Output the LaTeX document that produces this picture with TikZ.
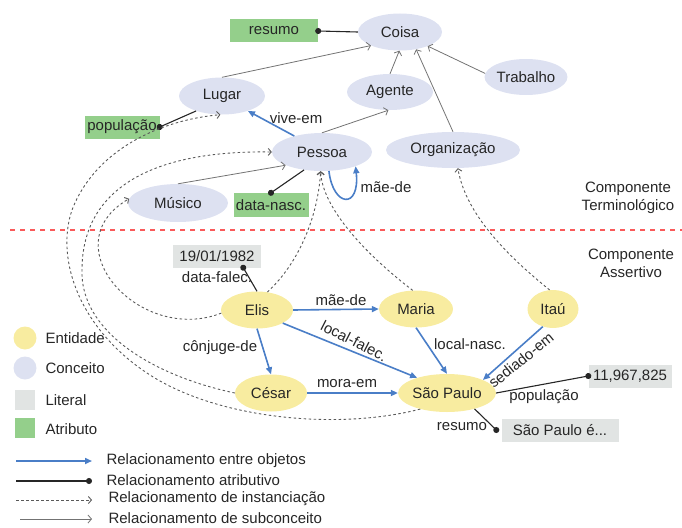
\documentclass[tikz,border=0pt]{standalone}
\usepackage{fontspec}
\setmainfont{Liberation Sans}
\usetikzlibrary{shapes.geometric,arrows.meta}

\definecolor{conceito}{RGB}{221,225,241}
\definecolor{entidade}{RGB}{248,236,160}
\definecolor{atributo}{RGB}{148,207,139}
\definecolor{literal}{RGB}{225,228,227}
\definecolor{objazul}{RGB}{74,126,199}
\definecolor{divisor}{RGB}{250,90,90}

\begin{document}
\begin{tikzpicture}[x=1pt,y=-1pt,
	font=\fontsize{15}{18}\selectfont,text=black!85,
	conc/.style={ellipse,fill=conceito,inner sep=0pt},
	ent/.style={ellipse,fill=entidade,inner sep=0pt},
	attr/.style={fill=atributo,minimum height=23pt,inner sep=0pt},
	lit/.style={fill=literal,minimum height=23pt,inner sep=0pt},
	objrel/.style={objazul,line width=1.6pt,-{Triangle[length=7pt,width=6pt]}},
	atrrel/.style={black!85,line width=1.1pt,shorten >=-3pt,-{Circle[length=6pt]}},
	inst/.style={black!65,line width=0.9pt,dash pattern=on 2.5pt off 2.5pt,-{Straight Barb[length=3pt,width=7pt]}},
	subc/.style={black!55,line width=0.8pt,-{Straight Barb[length=3.5pt,width=8pt]}}]
			\useasboundingbox (0,0) rectangle (682,527);
			% componente terminologico
			\node[conc,minimum width=84pt,minimum height=37pt] (coisa) at (400,32) {Coisa};
			\node[conc,minimum width=86pt,minimum height=37pt] (lugar) at (222,96) {Lugar};
			\node[conc,minimum width=86pt,minimum height=36pt] (agente) at (390,92) {Agente};
			\node[conc,minimum width=74pt,minimum height=36pt] (trabalho) at (526,77) {Trabalho};
			\node[conc,minimum width=134pt,minimum height=36pt] (org) at (453,150) {Organização};
			\node[conc,minimum width=100pt,minimum height=38pt] (pessoa) at (322,152) {Pessoa};
			\node[conc,minimum width=100pt,minimum height=38pt] (musico) at (178,203) {Músico};
			\node[attr,minimum width=88pt] (resumo) at (274,31) {resumo};
			\node[attr,minimum width=75pt] (pop) at (122,127) {população};
			\node[attr,minimum width=75pt,minimum height=24pt] (nasc) at (271,205) {data-nasc.};
			\node[align=center] (term) at (628,198) {Componente\\Terminológico};
			\draw[subc] (lugar.north) -- (coisa.205);
			\draw[subc] (agente.north) -- (coisa.268);
			\draw[subc] (org.north) -- (coisa.313);
			\draw[subc] (trabalho.175) -- (coisa.333);
			\draw[subc] (pessoa.north) -- (agente.265);
			\draw[subc] (musico.north) -- (pessoa.200);
			\draw[atrrel] (coisa.west) -- (resumo.east);
			\draw[atrrel] (lugar.210) -- (pop.east);
			\draw[atrrel] (pessoa.225) -- (nasc.north);
			\draw[objrel] (pessoa.150) -- (lugar.-30);
			\node (viveem) at (296,118) {vive-em};
			\draw[objrel] (pessoa.290) .. controls (333,207) and (360,210) .. (pessoa.337);
			\node (maede1) at (386,187) {mãe-de};
			% divisao
			\draw[divisor,line width=2.5pt,dash pattern=on 5pt off 5pt] (10,230) -- (682,230);
			% componente assertivo
			\node[align=center] (assert) at (631,263) {Componente\\Assertivo};
			\node[ent,minimum width=72pt,minimum height=37pt] (elis) at (257,310) {Elis};
			\node[ent,minimum width=74pt,minimum height=37pt] (maria) at (416,309) {Maria};
			\node[ent,minimum width=51pt,minimum height=38pt] (itau) at (553,309) {Itaú};
			\node[ent,minimum width=72pt,minimum height=37pt] (cesar) at (271,393) {César};
			\node[ent,minimum width=82pt,minimum height=38pt] (sp) at (447,393) {São Paulo};
			\node[lit,minimum width=88pt] (dt) at (217,256) {19/01/1982};
			\node[lit,minimum width=83pt] (num) at (630,376) {11,967,825};
			\node[lit,minimum width=117pt] (desc) at (560,430) {São Paulo é...};
			\draw[objrel] (elis.east) -- (maria.west);
			\node (maede2) at (341,300) {mãe-de};
			\draw[objrel] (elis.-27) -- (sp.153);
			\node[rotate=-27] (falec) at (354,341) {local-falec.};
			\draw[objrel] (elis.south) -- (cesar.north);
			\node (conj) at (220,348) {cônjuge-de};
			\draw[objrel] (cesar.east) -- (sp.west);
			\node (mora) at (347,384) {mora-em};
			\draw[objrel] (maria.south) -- (sp.north);
			\node (lnasc) at (470,344) {local-nasc.};
			\draw[objrel] (itau.240) -- (sp.20);
			\node[rotate=39] (sede) at (521,360) {sediado-em};
			\draw[atrrel] (elis.north) -- (dt.-24);
			\node (dfalec) at (217,277) {data-falec.};
			\draw[atrrel] (sp.east) -- (num.west);
			\node (lpop) at (544,397) {população};
			\draw[atrrel] (sp.330) -- ([xshift=-5pt]desc.west);
			\node (lres) at (462,427) {resumo};
			% instanciacao
			\draw[inst] (elis.185) .. controls (140,345) and (50,245) .. (musico.175);
			\draw[inst] (cesar.west) .. controls (150,375) and (80,330) .. (82,270)
				.. controls (82,190) and (150,150) .. (pessoa.west);
			\draw[inst] (sp.211) .. controls (340,430) and (220,420) .. (150,375)
				.. controls (80,330) and (55,260) .. (72,210)
				.. controls (95,150) and (160,120) .. (lugar.265);
			\draw[inst] (elis.60) .. controls (300,262) and (318,215) .. (pessoa.266);
			\draw[inst] (maria.100) .. controls (360,250) and (322,205) .. (pessoa.266);
			\draw[inst] (itau.100) .. controls (500,250) and (465,210) .. (org.285);
			% legenda
			\node[circle,fill=entidade,minimum size=23pt,inner sep=0pt] (lge) at (25,338) {};
			\node[anchor=west] (lgeT) at (42,338) {Entidade};
			\node[circle,fill=conceito,minimum size=23pt,inner sep=0pt] (lgc) at (25,368) {};
			\node[anchor=west] (lgcT) at (42,368) {Conceito};
			\node[fill=literal,minimum size=20pt,inner sep=0pt] (lgl) at (25,400) {};
			\node[anchor=west] (lglT) at (42,400) {Literal};
			\node[fill=atributo,minimum size=20pt,inner sep=0pt] (lga) at (25,428) {};
			\node[anchor=west] (lgaT) at (42,429) {Atributo};
			\coordinate (r1a) at (16,461); \coordinate (r1b) at (92,461);
			\coordinate (r2a) at (16,481); \coordinate (r2b) at (89,481);
			\coordinate (r3a) at (16,500); \coordinate (r3b) at (92,500);
			\coordinate (r4a) at (20,519); \coordinate (r4b) at (92,519);
			\draw[objrel] (r1a) -- (r1b);
			\draw[atrrel] (r2a) -- (r2b);
			\draw[inst] (r3a) -- (r3b);
			\draw[subc] (r4a) -- (r4b);
			\node[anchor=west] (r1T) at (103,461) {Relacionamento entre objetos};
			\node[anchor=west] (r2T) at (103,480) {Relacionamento atributivo};
			\node[anchor=west] (r3T) at (105,499) {Relacionamento de instanciação};
			\node[anchor=west] (r4T) at (105,518) {Relacionamento de subconceito};
		\end{tikzpicture}
\end{document}
